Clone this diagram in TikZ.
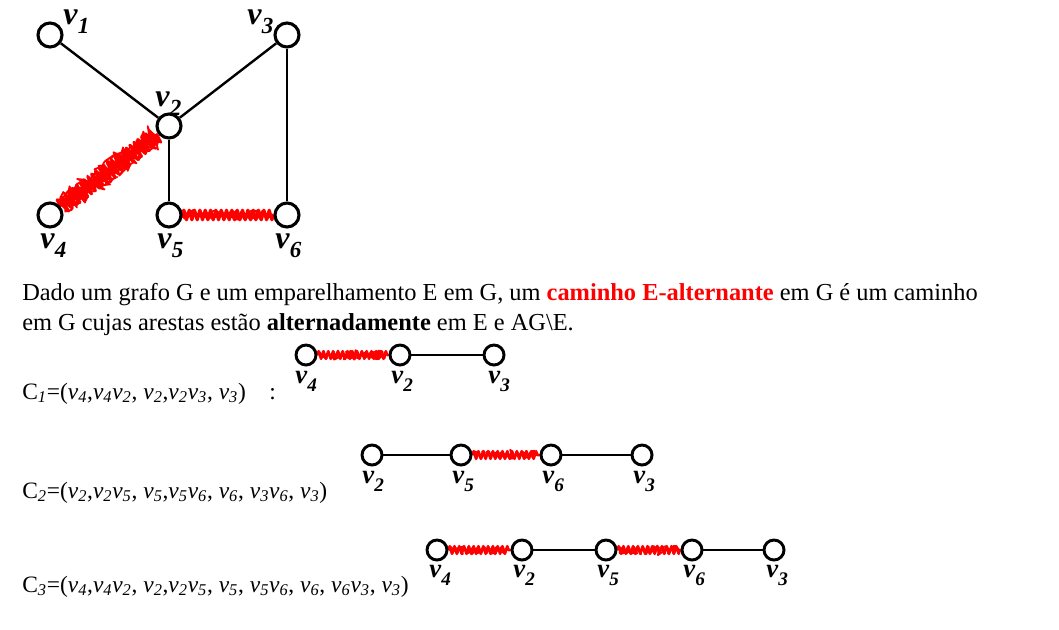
\documentclass[tikz,border=0pt]{standalone}
\usepackage{fontspec}
\setmainfont{Liberation Serif}
\usetikzlibrary{decorations.pathmorphing}
\pgfdeclarelayer{bg}
\pgfsetlayers{bg,main}
\newcommand\vv[1]{\textbf{\textit{v}}\raisebox{-0.3em}{\fontsize{0.72\dimexpr\fontdimen6\font\relax}{1}\selectfont\textbf{\textit{#1}}}}
\newcommand\iv[1]{\textit{v#1}}
\tikzset{
  px/.style={x=0.75pt,y=-0.75pt},
  bigv/.style={circle,draw,line width=2.3pt,minimum size=18pt,inner sep=0pt,fill=white},
  smallv/.style={circle,draw,line width=2.2pt,minimum size=15pt,inner sep=0pt,fill=white},
  edge/.style={line width=1.8pt},
  scrib/.style n args={3}{red,line width=#3,line join=round,decorate,decoration={zigzag,segment length=#1,amplitude=#2},
     postaction={draw,red,line width=1.3pt,decorate,decoration={random steps,segment length=2.2pt,amplitude=#2*0.8}}},
  match/.style={scrib={3.6pt}{2.8pt}{2pt}},
  tmatch/.style={scrib={4pt}{3.6pt}{2.4pt}},
  wmatch/.style={scrib={3.6pt}{6pt}{2.2pt}},
  toplab/.style={font=\fontsize{24}{24}\selectfont,inner sep=0pt,anchor=base west},
  pathlab/.style={font=\fontsize{20}{20}\selectfont,inner sep=0pt,anchor=base west},
  body/.style={font=\fontsize{18.3}{18.3}\selectfont,anchor=base west,inner sep=0pt},
  ctext/.style={font=\fontsize{17.6}{17.6}\selectfont,anchor=base west,inner sep=0pt},
}
\begin{document}
\begin{tikzpicture}[px]
\pgfmathsetseed{7}
\useasboundingbox (0,0) rectangle (1059,629);
% top graph
\node[bigv] (v1) at (50,35) {};
\node[bigv] (v3) at (287,35) {};
\node[bigv] (v2) at (169,126) {};
\node[bigv] (v4) at (50,215) {};
\node[bigv] (v5) at (169,215) {};
\node[bigv] (v6) at (287,215) {};
\begin{pgfonlayer}{bg}
\draw[edge] (v1) -- (v2);
\draw[edge] (v2) -- (v3);
\draw[edge] (v3) -- (v6);
\draw[edge] (v2) -- (v5);
\draw[wmatch] (v4) -- (v2);
\draw[tmatch] (v5) -- (v6);
\end{pgfonlayer}
\node[toplab] (l1) at (63,24) {\vv{1}};
\node[toplab] (l3) at (247,24) {\vv{3}};
\node[toplab] (l2) at (155,106) {\vv{2}};
\node[toplab] (l4) at (40,248) {\vv{4}};
\node[toplab] (l5) at (157,248) {\vv{5}};
\node[toplab] (l6) at (275,248) {\vv{6}};
% text
\node[body] (t1) at (22,300) {Dado um grafo G e um emparelhamento E em G, um \textcolor{red}{\textbf{caminho E-alternante}} em G é um caminho};
\node[body] (t2) at (22,330) {em G cujas arestas estão \textbf{alternadamente} em E e AG\textbackslash E.};
% C1
\node[ctext] (c1) at (22,399) {C\textsubscript{\textit{1}}=(\iv{\textsubscript{4}},\iv{\textsubscript{4}}\iv{\textsubscript{2}}, \iv{\textsubscript{2}},\iv{\textsubscript{2}}\iv{\textsubscript{3}}, \iv{\textsubscript{3}})\quad :};
\node[smallv] (a4) at (306,355) {};
\node[smallv] (a2) at (400,355) {};
\node[smallv] (a3) at (494,355) {};
\begin{pgfonlayer}{bg}
\draw[match] (a4) -- (a2);
\draw[edge] (a2) -- (a3);
\end{pgfonlayer}
\node[pathlab] (la4) at (295,383) {\vv{4}};
\node[pathlab] (la2) at (391,383) {\vv{2}};
\node[pathlab] (la3) at (488,383) {\vv{3}};
% C2
\node[ctext] (c2) at (22,498) {C\textsubscript{\textit{2}}=(\iv{\textsubscript{2}},\iv{\textsubscript{2}}\iv{\textsubscript{5}}, \iv{\textsubscript{5}},\iv{\textsubscript{5}}\iv{\textsubscript{6}}, \iv{\textsubscript{6}}, \iv{\textsubscript{3}}\iv{\textsubscript{6}}, \iv{\textsubscript{3}})};
\node[smallv] (b2) at (372,455) {};
\node[smallv] (b5) at (461,455) {};
\node[smallv] (b6) at (551,455) {};
\node[smallv] (b3) at (642,455) {};
\begin{pgfonlayer}{bg}
\draw[edge] (b2) -- (b5);
\draw[match] (b5) -- (b6);
\draw[edge] (b6) -- (b3);
\end{pgfonlayer}
\node[pathlab] (lb2) at (362,483) {\vv{2}};
\node[pathlab] (lb5) at (452,483) {\vv{5}};
\node[pathlab] (lb6) at (542,483) {\vv{6}};
\node[pathlab] (lb3) at (633,483) {\vv{3}};
% C3
\node[ctext] (c3) at (22,592) {C\textsubscript{\textit{3}}=(\iv{\textsubscript{4}},\iv{\textsubscript{4}}\iv{\textsubscript{2}}, \iv{\textsubscript{2}},\iv{\textsubscript{2}}\iv{\textsubscript{5}}, \iv{\textsubscript{5}}, \iv{\textsubscript{5}}\iv{\textsubscript{6}}, \iv{\textsubscript{6}}, \iv{\textsubscript{6}}\iv{\textsubscript{3}}, \iv{\textsubscript{3}})};
\node[smallv] (d4) at (437,550) {};
\node[smallv] (d2) at (522,550) {};
\node[smallv] (d5) at (606,550) {};
\node[smallv] (d6) at (692,550) {};
\node[smallv] (d3) at (774,550) {};
\begin{pgfonlayer}{bg}
\draw[match] (d4) -- (d2);
\draw[edge] (d2) -- (d5);
\draw[match] (d5) -- (d6);
\draw[edge] (d6) -- (d3);
\end{pgfonlayer}
\node[pathlab] (ld4) at (429,577) {\vv{4}};
\node[pathlab] (ld2) at (513,577) {\vv{2}};
\node[pathlab] (ld5) at (597,577) {\vv{5}};
\node[pathlab] (ld6) at (683,577) {\vv{6}};
\node[pathlab] (ld3) at (766,577) {\vv{3}};
\end{tikzpicture}
\end{document}
